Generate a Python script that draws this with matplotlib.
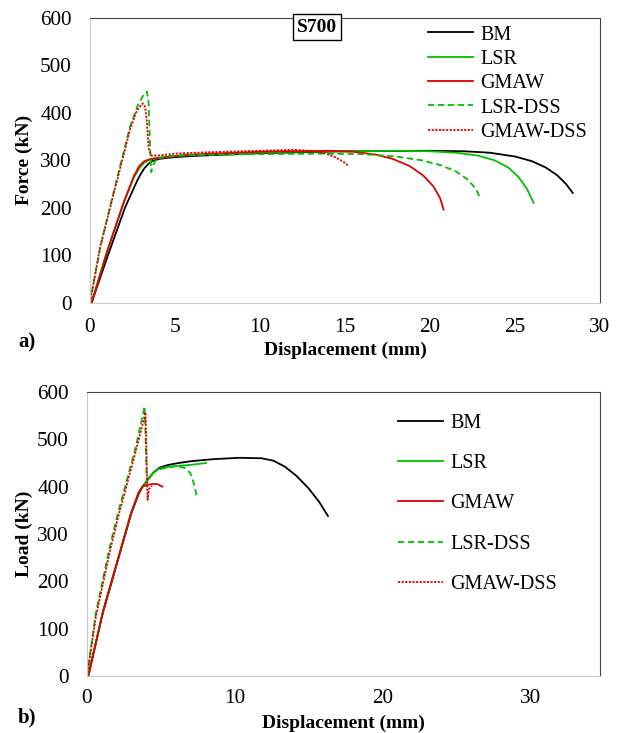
import numpy as np
import matplotlib
matplotlib.use("Agg")
import matplotlib.pyplot as plt

plt.rcParams["font.family"] = ["Liberation Serif", "DejaVu Serif"]

labels = ["BM", "LSR", "GMAW", "LSR-DSS", "GMAW-DSS"]
colors = ["black", "#00c000", "#e00000", "#00c000", "#e00000"]
styles = ["-", "-", "-", (0, (3.5, 2)), (0, (1.2, 0.8))]

# panel a) S700 force-displacement
a_bm_x = [0.1, 1.06, 2.06, 2.75, 3.0, 3.2, 3.45, 3.7, 4.1, 4.5, 5.2, 6, 8, 10, 15, 20, 22, 23.5, 25,
          26, 26.8, 27.5, 28, 28.4]
a_bm_y = [0, 100, 200, 255, 272, 283, 293, 299, 303, 305, 307, 309, 312, 315, 319, 320, 319, 316, 308,
          298, 285, 268, 250, 231]
a_lsr_x = [0.1, 1, 2, 2.6, 2.9, 3.2, 3.5, 3.9, 4.5, 5.5, 7, 12, 18, 20, 21.5, 22.8, 23.8, 24.6, 25.2,
           25.7, 26.1]
a_lsr_y = [0, 108, 212, 265, 283, 295, 301, 304, 307, 310, 313, 318, 320, 319, 316, 310, 300, 285, 265,
           240, 210]
a_gmaw_x = [0.1, 1, 2, 2.6, 2.9, 3.2, 3.5, 4, 5, 6, 10, 14, 15.5, 16.8, 17.8, 18.8, 19.6, 20.2, 20.6,
            20.8]
a_gmaw_y = [0, 106, 213, 268, 288, 298, 302, 305, 309, 312, 318, 320, 318, 312, 303, 288, 268, 245, 220,
            196]
a_lsrdss_x = [0, 0.6, 1.2, 1.8, 2.35, 2.8, 3.1, 3.35, 3.45, 3.52, 3.6, 3.7, 3.9, 4.5, 6, 10, 14, 16,
              18, 19.5, 20.6, 21.5, 22.2, 22.7, 22.9]
a_lsrdss_y = [0, 115, 205, 292, 370, 415, 435, 445, 420, 340, 275, 288, 303, 309, 311, 313, 314, 313,
              308, 300, 290, 277, 260, 240, 224]
a_gmawdss_x = [0, 0.6, 1.2, 1.8, 2.35, 2.7, 2.9, 3.1, 3.25, 3.35, 3.45, 3.6, 4, 5, 7, 10, 12, 13,
               13.8, 14.4, 14.9, 15.2]
a_gmawdss_y = [0, 118, 202, 286, 364, 400, 412, 420, 412, 380, 325, 310, 310, 314, 317, 320, 322, 320,
               315, 307, 297, 289]

# panel b) load-displacement
b_bm_x = [0.07, 1.07, 2.35, 3.0, 3.5, 3.76, 4.1, 4.5, 4.9, 5.5, 6.2, 7.1, 8.5, 10.3, 11.8, 12.6, 13.4,
          14.2, 15, 15.7, 16.3]
b_bm_y = [0, 133, 273, 344, 385, 400, 414, 430, 440, 446, 450, 454, 458, 461, 460, 455, 442, 422, 396,
          368, 338]
b_lsr_x = [0.1, 1.07, 2.35, 3.0, 3.5, 3.8, 4.1, 4.5, 4.9, 5.5, 6.2, 7, 8.05]
b_lsr_y = [0, 135, 275, 346, 388, 403, 415, 430, 438, 442, 444, 446, 450]
b_gmaw_x = [0.1, 1.07, 2.35, 3.0, 3.5, 3.76, 4.1, 4.5, 4.8, 5.1]
b_gmaw_y = [0, 135, 275, 346, 388, 400, 404, 406, 405, 400]
b_lsrdss_x = [0, 0.6, 1.54, 2.1, 2.7, 3.3, 3.9, 3.95, 4.0, 4.05, 4.3, 4.8, 5.5, 6.0, 6.6, 7.0, 7.25, 7.4]
b_lsrdss_y = [0, 133, 273, 345, 414, 484, 570, 520, 460, 414, 425, 436, 441, 443, 440, 428, 405, 382]
b_gmawdss_x = [0, 0.6, 1.54, 2.1, 2.7, 3.3, 3.96, 4.02, 4.07, 4.1, 4.2, 4.4]
b_gmawdss_y = [0, 125, 262, 335, 405, 475, 557, 480, 400, 372, 395, 402]

fig = plt.figure(figsize=(6.24, 7.33), dpi=100)
ax1 = fig.add_axes([0.1442, 0.5873, 0.8173, 0.3881])
ax2 = fig.add_axes([0.1394, 0.0778, 0.8221, 0.3874])

data_a = [(a_bm_x, a_bm_y), (a_lsr_x, a_lsr_y), (a_gmaw_x, a_gmaw_y),
          (a_lsrdss_x, a_lsrdss_y), (a_gmawdss_x, a_gmawdss_y)]
data_b = [(b_bm_x, b_bm_y), (b_lsr_x, b_lsr_y), (b_gmaw_x, b_gmaw_y),
          (b_lsrdss_x, b_lsrdss_y), (b_gmawdss_x, b_gmawdss_y)]

for ax, data in [(ax1, data_a), (ax2, data_b)]:
    for (x, y), lab, c, ls in zip(data, labels, colors, styles):
        ax.plot(x, y, color=c, linestyle=ls, lw=1.3, label=lab)
    ax.set_ylim(0, 600)
    ax.set_yticks(range(0, 601, 100))
    ax.tick_params(length=0, labelsize=15.3)
    ax.tick_params(axis="y", pad=13)
    ax.spines["left"].set_color("#c8c8c8")
    ax.spines["bottom"].set_color("#c8c8c8")
    ax.spines["top"].set_color("#444444")
    ax.spines["right"].set_color("#444444")
    ax.set_xlabel("Displacement (mm)", fontsize=14, fontweight="bold")

ax1.set_xlim(0, 30)
ax1.set_xticks(range(0, 31, 5))
ax1.tick_params(axis="x", pad=11.5)
ax1.set_ylabel("Force (kN)", fontsize=14, fontweight="bold")
ax1.yaxis.set_label_coords(-0.112, 0.5)
ax1.xaxis.set_label_coords(0.5, -0.139)
ax1.legend(loc="upper left", bbox_to_anchor=(0.663, 0.974), frameon=False, fontsize=14.5,
           borderpad=0, borderaxespad=0, handlelength=2.24, handletextpad=0.35, labelspacing=0.26)
ax1.text(0.445, 0.968, "S700", transform=ax1.transAxes, ha="center", va="center",
         fontsize=14, fontweight="bold",
         bbox=dict(boxstyle="square,pad=0.22", fc="white", ec="black", lw=1))

ax2.set_xlim(0, 34.7)
ax2.set_xticks(range(0, 31, 10))
ax2.tick_params(axis="x", pad=9.5)
ax2.set_ylabel("Load (kN)", fontsize=14, fontweight="bold")
ax2.yaxis.set_label_coords(-0.105, 0.5)
ax2.xaxis.set_label_coords(0.5, -0.137)
ax2.legend(loc="upper left", bbox_to_anchor=(0.606, 0.923), frameon=False, fontsize=14.5,
           borderpad=0, borderaxespad=0, handlelength=2.24, handletextpad=0.35, labelspacing=1.05)

fig.text(0.029, 0.5334, "a)", fontsize=15, fontweight="bold", va="center")
fig.text(0.029, 0.0218, "b)", fontsize=15, fontweight="bold", va="center")

fig.savefig("out.png", dpi=100)
